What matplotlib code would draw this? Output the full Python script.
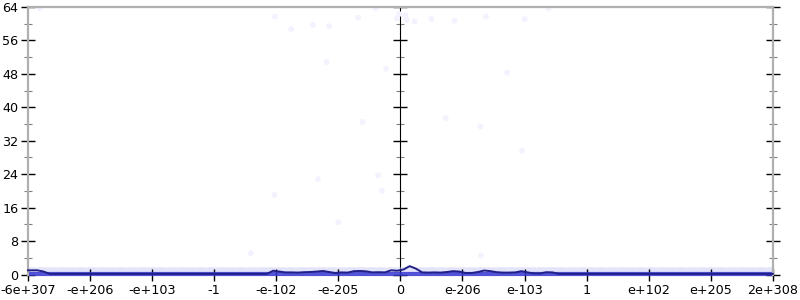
#!/usr/bin/env python3
"""Sample counts over the ordered float range (gnuplot-style strip plot)."""

import matplotlib

matplotlib.use("Agg")
import matplotlib.pyplot as plt
import numpy as np
from matplotlib.ticker import MultipleLocator, NullFormatter

tick_labels = ["-6e+307", "-e+206", "-e+103", "-1", "-e-102", "-e-205", "0",
               "e-206", "e-103", "1", "e+102", "e+205", "2e+308"]

# averaged count per bin (120 bins across the 12 tick intervals)
bin_values = (
    [1.0, 1.0, 0.7] + [0.15] * 36
    + [0.9, 0.7, 0.5, 0.5, 0.45, 0.55, 0.6, 0.7, 0.85, 0.6,
       0.35, 0.5, 0.45, 0.8, 0.85, 0.75, 0.5, 0.55, 0.5, 1.0,
       0.9, 1.2, 2.0, 1.4, 0.5, 0.45, 0.5, 0.45, 0.6, 0.8,
       0.7, 0.35, 0.35, 0.6, 0.95, 0.8, 0.55, 0.45, 0.45, 0.5,
       0.8, 0.5, 0.25, 0.25, 0.55, 0.5]
    + [0.15] * 35
)

# individual outlier samples (position in tick units, count)
outlier_x = [0.19, 3.98, 4.24, 4.59, 4.85, 4.81, 5.32, 5.60, 5.77, 5.39, 5.94,
             5.98, 6.08, 6.10, 6.23, 6.50, 6.87, 7.38, 8.00, 8.39, 7.72, 6.73,
             7.29, 7.96, 4.67, 3.97, 5.64, 5.70, 5.00, 3.59, 7.30]
outlier_y = [63.7, 61.7, 58.7, 59.7, 59.4, 50.8, 61.4, 63.7, 49.2, 36.5, 61.3,
             62.3, 62.1, 60.9, 60.5, 61.1, 60.7, 61.7, 61.1, 63.7, 48.3, 37.4,
             35.4, 29.6, 22.8, 19.0, 23.7, 20.0, 12.5, 5.1, 4.5]

# levels where most samples sit
band_levels = [1.0, 0.1]

plt.rcParams["font.family"] = ["DejaVu Sans"]
plt.rcParams["font.size"] = 9.2

fig = plt.figure(figsize=(8, 3), dpi=100)
ax = fig.add_axes([0.035, 0.085, 0.931, 0.892])

n_ticks = len(tick_labels)
x_max = n_ticks - 1
n_bins = len(bin_values)
centers = (np.arange(n_bins) + 0.5) * x_max / n_bins

ax.hlines(band_levels[0], 0, x_max, color="#c8c8f4", alpha=0.5, linewidth=4,
          linestyles=(0, (1.2, 0.6)), capstyle="round", zorder=1)
ax.hlines(band_levels[1], 0, x_max, color="#3535d0", alpha=0.85, linewidth=3,
          zorder=2, clip_on=False)
ax.scatter(outlier_x, outlier_y, s=18, color="#f3f3ff", edgecolors="none",
           zorder=2, clip_on=False)
ax.plot(np.concatenate([[0], centers, [x_max]]),
        np.concatenate([[bin_values[0]], bin_values, [bin_values[-1]]]),
        color="#202088", linewidth=1.4, zorder=3, clip_on=False)

ax.set_xlim(0, x_max)
ax.set_ylim(0, 64)
ax.set_xticks(range(n_ticks))
ax.set_xticklabels(tick_labels)
ax.yaxis.set_major_locator(MultipleLocator(8))
ax.yaxis.set_minor_locator(MultipleLocator(4))

for side in ("left", "right", "top"):
    ax.spines[side].set_color("#b0b0b0")
    ax.spines[side].set_linewidth(1.6)
ax.spines["bottom"].set_visible(False)

ax.tick_params(axis="x", direction="inout", length=9, width=1, color="black",
               pad=2)
ax.tick_params(axis="y", which="major", direction="inout", length=10, width=1,
               color="black", right=True, pad=2)
ax.tick_params(axis="y", which="minor", direction="inout", length=6, width=0.8,
               color="#808080", right=True)

mid = ax.secondary_yaxis(0.5)
mid.yaxis.set_major_locator(MultipleLocator(8))
mid.yaxis.set_minor_locator(MultipleLocator(4))
mid.yaxis.set_major_formatter(NullFormatter())
mid.tick_params(which="both", direction="inout", labelleft=False,
                labelright=False)
mid.tick_params(which="major", length=10, width=1, color="black")
mid.tick_params(which="minor", length=6, width=0.8, color="#808080")
mid.spines["left"].set_color("#b0b0b0")
mid.spines["left"].set_linewidth(1.6)

fig.savefig("out.png", dpi=100)
